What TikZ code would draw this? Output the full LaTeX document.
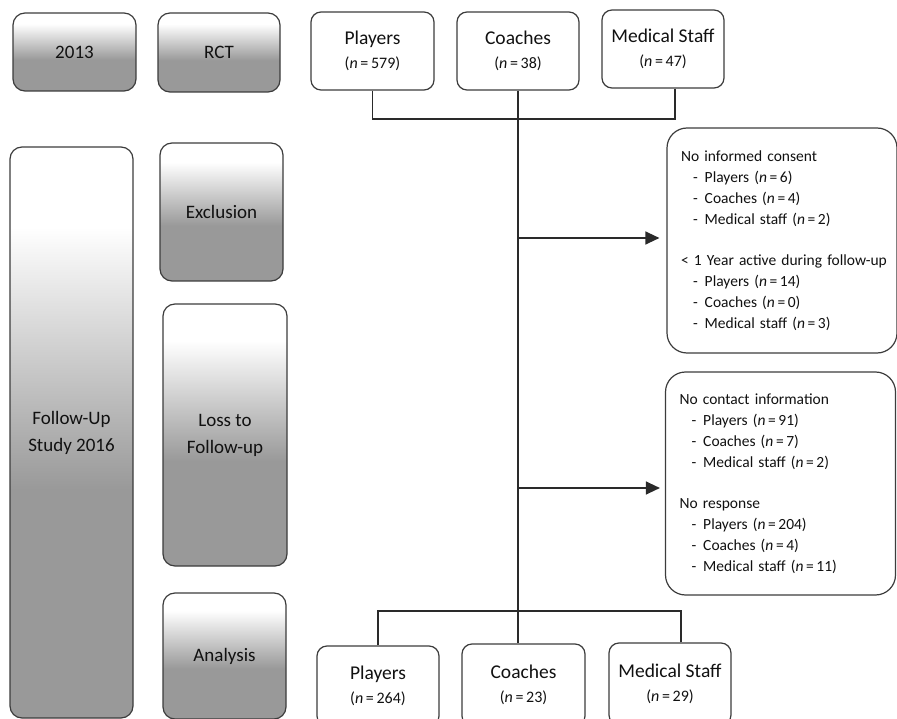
\documentclass[tikz,border=0pt]{standalone}
\usepackage{fontspec}
\setmainfont{Carlito}
\usetikzlibrary{arrows.meta,calc}
\definecolor{gfill}{gray}{0.6}
\definecolor{bordc}{HTML}{3C3C3C}
\definecolor{txtc}{HTML}{111111}
\definecolor{linec}{HTML}{2A2A2A}
\pgfdeclareverticalshading{boxgrad}{100bp}{color(0bp)=(gfill); color(45bp)=(gfill); color(68bp)=(white); color(100bp)=(white)}
\tikzset{
  lbox/.style={draw=bordc, line width=1.2pt, rounded corners=12pt, shade, shading=boxgrad, align=center, font=\fontsize{19}{27}\selectfont, text=txtc, inner sep=0pt},
  wbox/.style={draw=bordc, line width=1.2pt, rounded corners=10pt, fill=white, align=center, text=txtc, inner sep=0pt, font=\fontsize{19.5}{24}\selectfont},
  dbox/.style={draw=bordc, line width=1.2pt, rounded corners=20pt, fill=white, text width=202pt, inner xsep=14pt, inner ysep=0pt, align=left, text=txtc, font=\fontsize{15.5}{21}\selectfont},
  conn/.style={draw=linec, line width=1.3pt},
  arr/.style={conn, -{Triangle[length=14pt,width=13pt]}},
}
\newcommand{\nn}[1]{(\textit{n}\,=\,#1)}
\newcommand{\sml}{\fontsize{16}{24}\selectfont}
\newcommand{\itm}{\hspace*{12pt}-\hspace{7pt}}
\begin{document}
\begin{tikzpicture}[x=1pt,y=-1pt]
\useasboundingbox (0,0) rectangle (897,719);
% left column
\node[lbox, minimum width=123pt, minimum height=78pt] (y13) at (74.5,52) {2013};
\node[lbox, minimum width=122pt, minimum height=79pt] (rct) at (219,52.5) {RCT};
\node[lbox, minimum width=123pt, minimum height=571pt] (fu) at (71.5,432.5) {Follow-Up\\Study 2016};
\node[lbox, minimum width=123pt, minimum height=138pt] (ex) at (221.5,212) {Exclusion};
\node[lbox, minimum width=124pt, minimum height=262pt] (loss) at (225,435) {Loss to\\Follow-up};
\node[lbox, minimum width=123pt, minimum height=126pt] (an) at (224.5,656) {Analysis};
% top boxes
\node[wbox, minimum width=123pt, minimum height=78pt] (p1) at (372.5,51) {Players\\ \sml\nn{579}};
\node[wbox, minimum width=122pt, minimum height=78pt] (c1) at (518,51) {Coaches\\ \sml\nn{38}};
\node[wbox, minimum width=122pt, minimum height=78pt] (m1) at (663,49) {Medical Staff\\ \sml\nn{47}};
% detail boxes
\node[dbox, minimum height=225pt] (exd) at (782,240.5) {No informed consent\\
\itm Players \nn{6}\\
\itm Coaches \nn{4}\\
\itm Medical staff \nn{2}\\[20pt]
\mbox{< 1 Year active during follow-up}\\
\itm Players \nn{14}\\
\itm Coaches \nn{0}\\
\itm Medical staff \nn{3}};
\node[dbox, minimum height=223pt] (lossd) at (780.5,483.5) {No contact information\\
\itm Players \nn{91}\\
\itm Coaches \nn{7}\\
\itm Medical staff \nn{2}\\[20pt]
No response\\
\itm Players \nn{204}\\
\itm Coaches \nn{4}\\
\itm Medical staff \nn{11}};
% bottom boxes
\node[wbox, minimum width=122pt, minimum height=80pt] (p2) at (378,686) {Players\\ \sml\nn{264}};
\node[wbox, minimum width=123pt, minimum height=82pt] (c2) at (523.5,685) {Coaches\\ \sml\nn{23}};
\node[wbox, minimum width=122pt, minimum height=82pt] (m2) at (670,684) {Medical Staff\\ \sml\nn{29}};
% connectors
\coordinate (jt) at (518,119);
\coordinate (jb) at (518,611);
\coordinate (a1) at (518,238);
\coordinate (a2) at (518,488);
\draw[conn] (p1.south) |- (jt);
\draw[conn] ([xshift=12pt]m1.south) |- (jt);
\draw[conn] (c1.south) -- (c1.south |- c2.north);
\draw[conn] (p2.north) |- (jb);
\draw[conn] ([xshift=11pt]m2.north) |- (jb);
\draw[arr, shorten >=7pt] (a1) -- (a1 -| exd.west);
\draw[arr, shorten >=5pt] (a2) -- (a2 -| lossd.west);
\end{tikzpicture}
\end{document}
